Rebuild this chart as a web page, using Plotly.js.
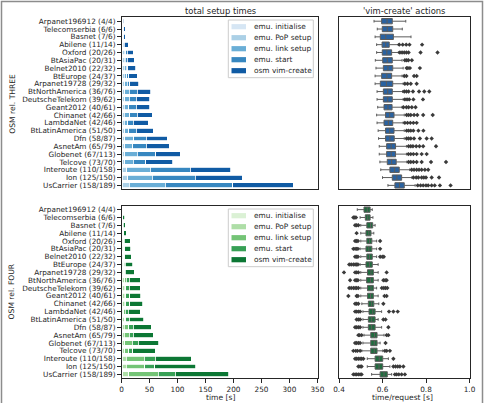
<!DOCTYPE html>
<html>
<head>
<meta charset="utf-8">
<script src="https://cdn.plot.ly/plotly-3.0.1.min.js"></script>
<style>
  html, body { margin: 0; padding: 0; background: #ffffff; }
  #chart { width: 485px; height: 403px; }
</style>
</head>
<body>
<div id="chart"></div>
<script>
// Topologies (PoPs/links), top to bottom
const topologies = [
  'Arpanet196912 (4/4)', 'Telecomserbia (6/6)', 'Basnet (7/6)', 'Abilene (11/14)',
  'Oxford (20/26)', 'BtAsiaPac (20/31)', 'Belnet2010 (22/32)', 'BtEurope (24/37)',
  'Arpanet19728 (29/32)', 'BtNorthAmerica (36/76)', 'DeutscheTelekom (39/62)',
  'Geant2012 (40/61)', 'Chinanet (42/66)', 'LambdaNet (42/46)', 'BtLatinAmerica (51/50)',
  'Dfn (58/87)', 'AsnetAm (65/79)', 'Globenet (67/113)', 'Telcove (73/70)',
  'Interoute (110/158)', 'Ion (125/150)', 'UsCarrier (158/189)'
];

const phases = ['emu. initialise', 'emu. PoP setup', 'emu. link setup', 'emu. start', 'osm vim-create'];

// OSM rel. THREE: setup phase durations [s]
const threeInit  = [1.0, 1.0, 1.0, 1.0, 1.5, 1.5, 1.5, 1.5, 1.5, 1.5, 1.5, 1.5, 1.5, 1.5, 1.5, 1.5, 1.5, 1.5, 1.5, 1.6, 1.6, 1.6];
const threePop   = [0.5, 0.8, 0.8, 1.2, 3.5, 3.0, 3.5, 3.5, 4.0, 4.0, 4.0, 3.8, 3.8, 3.5, 3.9, 3.9, 3.9, 4.5, 4.5, 8.0, 9.5, 11.9];
const threeLink  = [0.3, 0.4, 0.4, 0.6, 2.5, 2.5, 3.5, 4.0, 4.5, 8.3, 8.3, 7.9, 9.7, 6.4, 7.8, 16.2, 15.0, 22.1, 14.7, 41.5, 44.2, 64.3];
const threeStart = [1.5, 2.0, 2.0, 2.0, 2.5, 3.0, 3.0, 4.0, 4.5, 14.3, 12.8, 13.1, 13.1, 9.6, 13.1, 22.7, 23.9, 33.5, 23.0, 72.0, 76.7, 121.2];
const threeVim   = [1.7, 2.8, 2.8, 7.6, 11.0, 12.5, 13.5, 15.0, 16.5, 24.2, 23.9, 24.2, 26.6, 27.1, 30.8, 37.3, 40.9, 43.3, 47.5, 72.0, 84.0, 107.8];

// OSM rel. FOUR: setup phase durations [s]
const fourInit  = [2.0, 1.0, 1.0, 1.0, 1.2, 1.2, 1.2, 1.2, 1.2, 1.5, 1.5, 1.5, 1.5, 1.5, 1.5, 1.5, 1.5, 1.5, 1.5, 1.5, 1.5, 2.0];
const fourPop   = [1.5, 0.7, 0.8, 1.2, 2.0, 2.0, 2.0, 2.5, 2.8, 4.0, 3.5, 3.5, 3.5, 2.5, 4.0, 3.6, 3.6, 4.2, 4.2, 6.6, 6.6, 11.2];
const fourLink  = [0.3, 0.3, 0.3, 0.5, 1.0, 1.0, 1.2, 1.5, 1.5, 2.6, 2.5, 2.5, 3.0, 2.5, 2.5, 8.1, 8.7, 13.5, 7.5, 32.9, 33.8, 52.6];
const fourStart = [0.3, 0.5, 0.6, 1.0, 1.0, 1.3, 1.3, 1.5, 1.5, 6.0, 6.5, 7.0, 7.0, 5.5, 5.5, 7.8, 7.2, 10.4, 7.2, 19.1, 17.6, 29.8];
const fourVim   = [0.5, 3.2, 3.8, 5.0, 10.7, 11.0, 12.0, 13.3, 16.0, 19.7, 19.2, 19.9, 23.0, 21.8, 26.3, 31.9, 36.1, 37.1, 40.3, 64.5, 72.9, 95.9];

// 'vim-create' request times [s], OSM rel. THREE: box statistics and outliers
const threeLo  = [0.561, 0.576, 0.566, 0.573, 0.573, 0.567, 0.570, 0.566, 0.566, 0.575, 0.575, 0.578, 0.573, 0.575, 0.580, 0.582, 0.585, 0.585, 0.588, 0.592, 0.600, 0.625];
const threeQ1  = [0.596, 0.599, 0.590, 0.598, 0.599, 0.601, 0.604, 0.596, 0.590, 0.604, 0.604, 0.607, 0.614, 0.607, 0.614, 0.614, 0.619, 0.619, 0.622, 0.634, 0.645, 0.657];
const threeMed = [0.621, 0.622, 0.615, 0.615, 0.620, 0.622, 0.625, 0.620, 0.618, 0.624, 0.624, 0.625, 0.633, 0.627, 0.633, 0.634, 0.640, 0.640, 0.642, 0.655, 0.666, 0.678];
const threeQ3  = [0.645, 0.647, 0.650, 0.631, 0.642, 0.645, 0.647, 0.642, 0.647, 0.645, 0.645, 0.644, 0.653, 0.647, 0.653, 0.654, 0.660, 0.660, 0.663, 0.677, 0.688, 0.700];
const threeHi  = [0.707, 0.691, 0.731, 0.673, 0.673, 0.690, 0.695, 0.690, 0.695, 0.692, 0.695, 0.690, 0.700, 0.695, 0.700, 0.700, 0.710, 0.710, 0.712, 0.725, 0.735, 0.750];
const threeOut = [
  [], [], [],
  [0.677, 0.693, 0.709, 0.724, 0.782],
  [0.680, 0.690, 0.700, 0.710, 0.720, 0.775, 0.853],
  [0.703, 0.711, 0.719, 0.735],
  [0.711, 0.717, 0.726, 0.772],
  [0.700, 0.710, 0.745, 0.757],
  [0.703, 0.715, 0.730, 0.757],
  [0.700, 0.710, 0.720, 0.740, 0.768, 0.792, 0.815],
  [0.703, 0.713, 0.723, 0.742, 0.786],
  [0.696, 0.710, 0.720, 0.735, 0.752],
  [0.711, 0.720, 0.730, 0.745, 0.760, 0.787, 0.831],
  [0.703, 0.715, 0.728, 0.742, 0.757],
  [0.711, 0.720, 0.730, 0.742, 0.765, 0.788],
  [0.711, 0.720, 0.730, 0.745, 0.772, 0.803, 0.826],
  [0.720, 0.730, 0.740, 0.755, 0.770, 0.787, 0.846],
  [0.719, 0.730, 0.742, 0.757, 0.780, 0.803],
  [0.720, 0.730, 0.742, 0.757, 0.780, 0.823, 0.892],
  [0.734, 0.745, 0.757, 0.768, 0.780, 0.795, 0.810],
  [0.742, 0.755, 0.765, 0.780, 0.790, 0.800, 0.826, 0.860],
  [0.762, 0.775, 0.787, 0.800, 0.810, 0.826, 0.840, 0.864, 0.913]
];

// 'vim-create' request times [s], OSM rel. FOUR: box statistics and outliers
const fourLo  = [0.484, 0.497, 0.500, 0.500, 0.500, 0.497, 0.500, 0.497, 0.500, 0.500, 0.500, 0.500, 0.505, 0.510, 0.510, 0.510, 0.515, 0.510, 0.505, 0.530, 0.530, 0.550];
const fourQ1  = [0.515, 0.521, 0.528, 0.524, 0.528, 0.524, 0.528, 0.524, 0.531, 0.527, 0.531, 0.531, 0.535, 0.538, 0.535, 0.535, 0.546, 0.546, 0.546, 0.566, 0.566, 0.589];
const fourMed = [0.530, 0.532, 0.545, 0.537, 0.540, 0.537, 0.540, 0.540, 0.547, 0.545, 0.547, 0.545, 0.550, 0.555, 0.550, 0.550, 0.563, 0.562, 0.562, 0.585, 0.584, 0.607];
const fourQ3  = [0.543, 0.543, 0.555, 0.547, 0.551, 0.551, 0.553, 0.553, 0.558, 0.558, 0.558, 0.558, 0.560, 0.566, 0.566, 0.566, 0.575, 0.575, 0.575, 0.601, 0.601, 0.622];
const fourHi  = [0.553, 0.556, 0.566, 0.560, 0.573, 0.573, 0.573, 0.580, 0.580, 0.580, 0.573, 0.580, 0.583, 0.596, 0.580, 0.596, 0.607, 0.589, 0.601, 0.627, 0.634, 0.642];
const fourOut = [
  [],
  [0.466, 0.472, 0.478],
  [0.474, 0.481, 0.489],
  [0.481],
  [0.474, 0.480, 0.487, 0.589],
  [0.466, 0.474, 0.481, 0.487, 0.589],
  [0.474, 0.481, 0.487, 0.589, 0.599, 0.606],
  [0.447, 0.456, 0.466, 0.474, 0.481, 0.487],
  [0.423, 0.474, 0.481, 0.489, 0.619],
  [0.451, 0.474, 0.481, 0.487, 0.604, 0.612, 0.619],
  [0.447, 0.456, 0.466, 0.474, 0.481, 0.489, 0.597, 0.606, 0.614, 0.622],
  [0.443, 0.481, 0.487, 0.609, 0.619],
  [0.474, 0.481, 0.489, 0.604],
  [0.474, 0.481, 0.489, 0.497, 0.630, 0.650, 0.670],
  [0.481, 0.489, 0.497, 0.604, 0.614],
  [0.474, 0.481, 0.489, 0.497, 0.627],
  [0.489, 0.495, 0.504, 0.619, 0.627],
  [0.474, 0.481, 0.489, 0.497, 0.614],
  [0.466, 0.477, 0.485, 0.497, 0.611, 0.619, 0.634],
  [0.474, 0.481, 0.489, 0.497, 0.504, 0.512, 0.650],
  [0.489, 0.497, 0.504, 0.650, 0.660, 0.670, 0.680, 0.696],
  [0.466, 0.474, 0.481, 0.489, 0.497, 0.504, 0.657, 0.665, 0.675, 0.688, 0.703]
];

const timeTicks = [0, 50, 100, 150, 200, 250, 300, 350];
const reqTicks = [0.4, 0.6, 0.8, 1.0];

const blues  = ['#d6e6f4', '#abd0e6', '#6aaed6', '#3787c0', '#105ba4'];
const greens = ['#dbf1d5', '#aedea7', '#74c476', '#37a055', '#0c7734'];

const W = 485, H = 403;
const fx = v => v / W;
const fy = v => 1 - v / H;
const ink = '#262626';
const FONT = 'DejaVu Sans, Liberation Sans, sans-serif';

function stackTraces(series, colors, xa, ya) {
  return series.map((vals, i) => ({
    type: 'bar', orientation: 'h', name: phases[i],
    x: vals, y: topologies, xaxis: xa, yaxis: ya,
    width: 0.62, showlegend: false,
    marker: { color: colors[i], line: { color: '#ffffff', width: 0.8 } },
    hoverinfo: 'x+y'
  }));
}

function boxTraces(lo, q1, med, q3, hi, out, fill, xa, ya) {
  const ox = [], oy = [];
  out.forEach((pts, i) => pts.forEach(v => { ox.push(v); oy.push(topologies[i]); }));
  return [
    {
      type: 'box', orientation: 'h', y: topologies,
      lowerfence: lo, q1: q1, median: med, q3: q3, upperfence: hi,
      xaxis: xa, yaxis: ya, width: 0.68, whiskerwidth: 0.5,
      fillcolor: fill, line: { color: '#5c5c5c', width: 1 },
      boxpoints: false, showlegend: false
    },
    {
      type: 'scatter', mode: 'markers', x: ox, y: oy, xaxis: xa, yaxis: ya,
      marker: { symbol: 'diamond', size: 3.4, color: '#3a3a3a' },
      showlegend: false, hoverinfo: 'x'
    }
  ];
}

const data = [].concat(
  stackTraces([threeInit, threePop, threeLink, threeStart, threeVim], blues, 'x', 'y'),
  stackTraces([fourInit, fourPop, fourLink, fourStart, fourVim], greens, 'x3', 'y3'),
  boxTraces(threeLo, threeQ1, threeMed, threeQ3, threeHi, threeOut, '#2a62a0', 'x2', 'y2'),
  boxTraces(fourLo, fourQ1, fourMed, fourQ3, fourHi, fourOut, '#1f6c3e', 'x4', 'y4')
);

const frame = { showline: true, mirror: true, linecolor: ink, linewidth: 1, showgrid: false, zeroline: false };
const leftX = [fx(121.5), fx(318)];
const rightX = [fx(339), fx(469.5)];
const topY = [fy(189.3), fy(17.3)];
const botY = [fy(378.3), fy(205.7)];
const catAxis = (domain, anchor, labels) => Object.assign({}, frame, {
  domain: domain, anchor: anchor, type: 'category', categoryarray: topologies,
  categoryorder: 'array', range: [topologies.length - 0.5, -0.5],
  tickmode: 'array', tickvals: topologies, ticktext: topologies,
  showticklabels: labels, ticks: labels ? 'outside' : '', ticklen: 3.5, tickwidth: 1,
  tickcolor: ink, tickfont: { size: 7.3, color: ink, family: FONT }
});
const valAxis = (domain, anchor, range, ticks, labels, fmt) => Object.assign({}, frame, {
  domain: domain, anchor: anchor, range: range, tickmode: 'array', tickvals: ticks,
  tickformat: fmt || '',
  showticklabels: labels, ticks: labels ? 'outside' : '', ticklen: 3.5, tickwidth: 1,
  tickcolor: ink, tickfont: { size: 7.3, color: ink, family: FONT }
});

const note = (text, x, y, size, angle, anchor) => ({
  text: text, x: fx(x), y: fy(y), xref: 'paper', yref: 'paper',
  xanchor: anchor || 'center', yanchor: 'middle', showarrow: false,
  textangle: angle || 0, font: { size: size, color: ink, family: FONT }
});

// Compact legend box: frame, colour patches and phase names
function legendParts(colors, top) {
  const shapes = [{
    type: 'rect', xref: 'paper', yref: 'paper', layer: 'above',
    x0: fx(228.3), x1: fx(313.3), y0: fy(top + 57.7), y1: fy(top),
    fillcolor: 'rgba(255,255,255,0.85)', line: { color: '#cccccc', width: 1 }
  }];
  const notes = [];
  phases.forEach((name, i) => {
    const cy = top + 6.7 + 11 * i;
    shapes.push({
      type: 'rect', xref: 'paper', yref: 'paper', layer: 'above',
      x0: fx(231.5), x1: fx(246), y0: fy(cy + 2.6), y1: fy(cy - 2.6),
      fillcolor: colors[i], line: { width: 0 }
    });
    notes.push(note(name, 251.5, cy, 7.4, 0, 'left'));
  });
  return { shapes, notes };
}
const legTop = legendParts(blues, 20);
const legBot = legendParts(greens, 209);

const layout = {
  width: W, height: H,
  margin: { l: 0, r: 0, t: 0, b: 0 },
  paper_bgcolor: '#ffffff', plot_bgcolor: '#ffffff',
  font: { family: FONT, color: ink },
  barmode: 'stack', showlegend: false,
  xaxis:  valAxis(leftX, 'y', [0, 351], timeTicks, false),
  yaxis:  catAxis(topY, 'x', true),
  xaxis2: valAxis(rightX, 'y2', [0.4, 1.0], reqTicks, false, '.1f'),
  yaxis2: catAxis(topY, 'x2', false),
  xaxis3: valAxis(leftX, 'y3', [0, 351], timeTicks, true),
  yaxis3: catAxis(botY, 'x3', true),
  xaxis4: valAxis(rightX, 'y4', [0.4, 1.0], reqTicks, true, '.1f'),
  yaxis4: catAxis(botY, 'x4', false),
  annotations: [
    note('total setup times', 220, 11, 8.4),
    note("'vim-create' actions", 404, 11, 8.4),
    note('OSM rel. THREE', 11.7, 104, 7.6, -90),
    note('OSM rel. FOUR', 11.7, 291.7, 7.6, -90),
    note('time [s]', 220, 397.7, 7.6),
    note('time/request [s]', 402, 397.7, 7.6)
  ].concat(legTop.notes, legBot.notes),
  shapes: [{
    type: 'rect', xref: 'paper', yref: 'paper',
    x0: fx(1.5), x1: fx(482.5), y0: -0.02, y1: fy(1.5),
    line: { color: '#8c8c8c', width: 1.5 }
  }].concat(legTop.shapes, legBot.shapes)
};

Plotly.newPlot('chart', data, layout, { displayModeBar: false, staticPlot: true });
</script>
</body>
</html>
